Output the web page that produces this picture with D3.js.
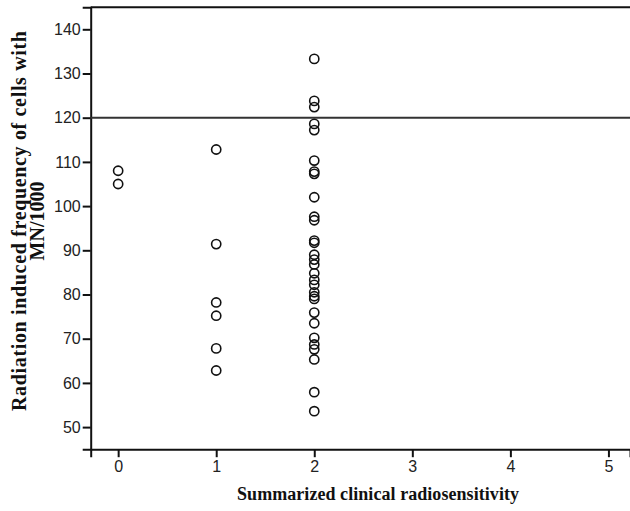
<!DOCTYPE html>
<html>
<head>
<meta charset="utf-8">
<script src="https://cdn.jsdelivr.net/npm/d3@7"></script>
<style>
  body { margin: 0; background: #fff; }
</style>
</head>
<body>
<div id="chart"></div>
<script>
// data
var sensitivity0 = [108, 105];
var sensitivity1 = [112.8, 91.4, 78.2, 75.2, 67.8, 62.8];
var sensitivity2 = [133.3, 123.8, 122.4, 118.6, 117.2, 110.3, 107.8, 107.3, 102, 97.6, 96.8,
  92.2, 91.7, 89, 87.9, 86.8, 84.8, 83.3, 82.2, 80.5, 79.6, 79, 75.9, 73.5,
  70.2, 68.7, 67.6, 65.3, 57.9, 53.6];
var xTicks = [0, 1, 2, 3, 4, 5];
var yTicks = [50, 60, 70, 80, 90, 100, 110, 120, 130, 140];
var referenceLine = 120;

var points = [];
[sensitivity0, sensitivity1, sensitivity2].forEach(function(vals, i) {
  vals.forEach(function(v) { points.push({ x: i, y: v }); });
});

var svgWidth = 630;
var svgHeight = 511;

var svg = d3.select("#chart")
  .append("svg")
  .attr("width", svgWidth)
  .attr("height", svgHeight);

var xScale = d3.scaleLinear()
  .domain([-0.28, 5.22])
  .range([90.7, 630]);

var yScale = d3.scaleLinear()
  .domain([45, 145])
  .range([449.2, 7.2]);

// axes
var bottomAxis = d3.axisBottom(xScale).tickValues(xTicks).tickFormat(d3.format("d"))
  .tickSize(8).tickPadding(3);
var leftAxis = d3.axisLeft(yScale).tickValues(yTicks).tickFormat(d3.format("d"))
  .tickSize(8).tickPadding(2);

var xAxisG = svg.append("g")
  .attr("transform", "translate(0," + yScale(45) + ")")
  .call(bottomAxis);

var yAxisG = svg.append("g")
  .attr("transform", "translate(" + xScale(-0.28) + ",0)")
  .call(leftAxis);

[xAxisG, yAxisG].forEach(function(g) {
  g.select(".domain").attr("stroke", "#111").attr("stroke-width", 2);
  g.selectAll(".tick line").attr("stroke", "#111").attr("stroke-width", 2);
  g.selectAll(".tick text")
    .attr("font-family", "Arial, 'Liberation Sans', sans-serif")
    .attr("font-size", 16)
    .attr("fill", "#222");
});

// top frame line
svg.append("line")
  .attr("x1", xScale(-0.28)).attr("x2", svgWidth)
  .attr("y1", yScale(145)).attr("y2", yScale(145))
  .attr("stroke", "#111").attr("stroke-width", 2);

// reference line at 120
svg.append("line")
  .attr("x1", xScale(-0.28)).attr("x2", svgWidth)
  .attr("y1", yScale(referenceLine)).attr("y2", yScale(referenceLine))
  .attr("stroke", "#333").attr("stroke-width", 2);

// points
svg.selectAll("circle")
  .data(points)
  .enter()
  .append("circle")
  .attr("cx", d => xScale(d.x))
  .attr("cy", d => yScale(d.y))
  .attr("r", 4.6)
  .attr("fill", "none")
  .attr("stroke", "#111")
  .attr("stroke-width", 1.6);

// labels
svg.append("text")
  .attr("x", 378)
  .attr("y", 500)
  .attr("text-anchor", "middle")
  .attr("font-family", "'Liberation Serif', 'Times New Roman', serif")
  .attr("font-weight", "bold")
  .attr("font-size", 18)
  .attr("textLength", 282)
  .attr("fill", "#111")
  .text("Summarized clinical radiosensitivity");

var yTitle = svg.append("text")
  .attr("transform", "translate(0,221) rotate(-90)")
  .attr("text-anchor", "middle")
  .attr("font-family", "'Liberation Serif', 'Times New Roman', serif")
  .attr("font-weight", "bold")
  .attr("font-size", 20)
  .attr("fill", "#111");
yTitle.append("tspan").attr("x", 0).attr("y", 26).attr("textLength", 380)
  .text("Radiation induced frequency of cells with");
yTitle.append("tspan").attr("x", 0).attr("y", 44).text("MN/1000");
</script>
</body>
</html>
